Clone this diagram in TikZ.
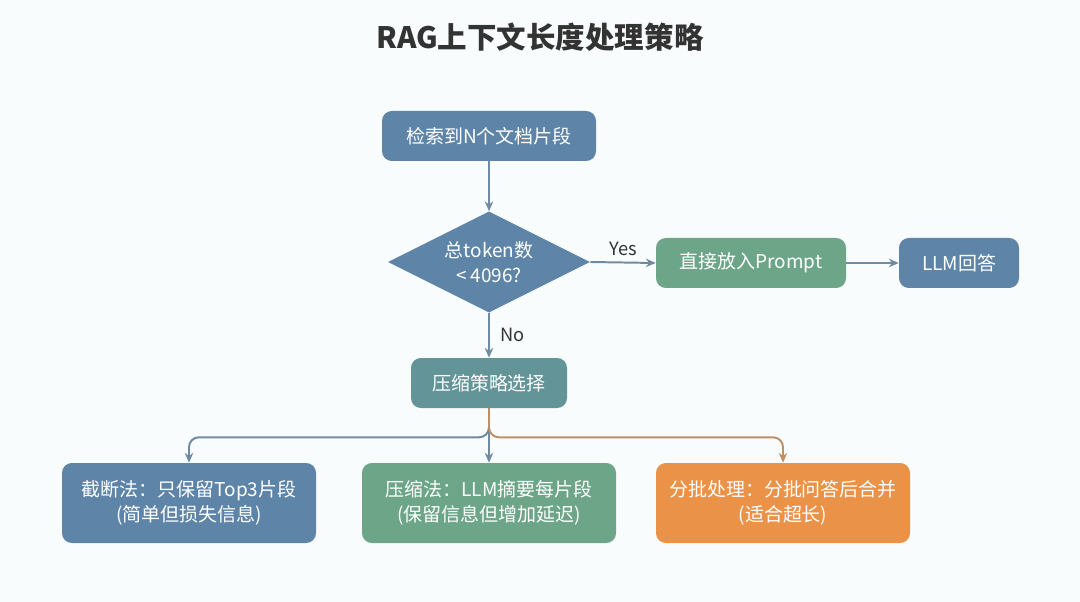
\documentclass[tikz,border=0pt]{standalone}
\usepackage{fontspec}
\setmainfont{Noto Sans CJK SC}
\setsansfont{Noto Sans CJK SC}
\definecolor{ragblue}{RGB}{94,133,168}
\definecolor{raggreen}{RGB}{108,165,135}
\definecolor{ragteal}{RGB}{98,148,152}
\definecolor{ragorange}{RGB}{234,147,72}
\definecolor{raggray}{RGB}{112,138,160}
\definecolor{ragtext}{RGB}{51,51,51}
\definecolor{ragbg}{RGB}{249,252,253}
\usetikzlibrary{arrows.meta,positioning,shapes.geometric}
\tikzset{
  stepnode/.style={rounded corners=7pt, fill=#1, text=white, font=\fontsize{13.5}{16}\selectfont,
                   minimum height=1.25cm, align=center, inner sep=2pt},
  decnode/.style={diamond, aspect=2, fill=#1, text=white, font=\fontsize{13.5}{18}\selectfont,
                  minimum width=5.05cm, minimum height=2.525cm, align=center, inner sep=0pt},
  leafnode/.style={rounded corners=7pt, fill=#1, text=white, font=\fontsize{13.5}{18}\selectfont,
                   minimum width=6.35cm, minimum height=2cm, align=center},
  flow/.style={draw=#1, line width=1.4pt, -{Stealth[length=7pt,width=6pt]}},
  flow/.default=raggray,
  edgelabel/.style={text=ragtext, font=\fontsize{13}{15}\selectfont},
}
\begin{document}
\begin{tikzpicture}

% background and frame
\fill[ragbg] (0,0) rectangle (27,-15.05);
\useasboundingbox (0,0) rectangle (27,-15.05);

% title
\node[text=ragtext, font=\fontsize{21}{25}\selectfont\bfseries] (title) at (13.5,-0.925) {RAG上下文长度处理策略};

% --- main chain ---
\node[stepnode=ragblue, minimum width=5.35cm] (fetch) at (12.225,-3.4) {检索到N个文档片段};
\node[decnode=ragblue] (check) at (12.225,-6.55) {总token数\\< 4096?};
\node[stepnode=raggreen, minimum width=4.75cm] (direct) at (18.775,-6.575) {直接放入Prompt};
\node[stepnode=ragblue, minimum width=3cm] (answer) at (23.975,-6.575) {LLM回答};
\node[stepnode=ragteal, minimum width=3.9cm] (pick) at (12.225,-9.575) {压缩策略选择};

% --- strategies ---
\node[leafnode=ragblue] (cut) at (4.725,-12.575) {截断法：只保留Top3片段\\(简单但损失信息)};
\node[leafnode=raggreen] (summ) at (12.225,-12.575) {压缩法：LLM摘要每片段\\(保留信息但增加延迟)};
\node[leafnode=ragorange] (batch) at (19.575,-12.575) {分批处理：分批问答后合并\\(适合超长)};

% connectors
\draw[flow] (fetch) -- (check);
\draw[flow] (check.east) -- node[edgelabel, above=1pt] {Yes} (direct.west);
\draw[flow] (direct) -- (answer);
\draw[flow] (check.south) -- node[edgelabel, right=4pt] {No} (pick.north);

\draw[flow, rounded corners=7pt] (pick.south) -- ++(0,-0.725) -| (cut.north);
\draw[flow] (pick.south) -- (summ.north);
\draw[flow=ragorange!65!raggray, rounded corners=7pt] (pick.south) -- ++(0,-0.725) -| (batch.north);

\end{tikzpicture}
\end{document}
